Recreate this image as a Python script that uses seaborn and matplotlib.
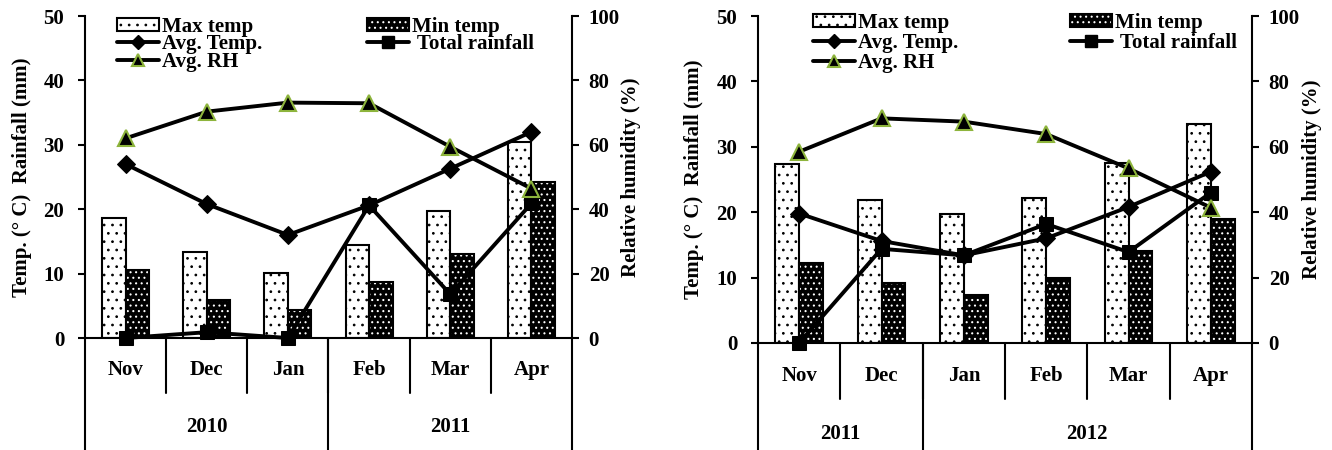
import numpy as np
import pandas as pd
import matplotlib
matplotlib.use("Agg")
import matplotlib.pyplot as plt
from matplotlib.patches import Patch, Rectangle
from matplotlib.legend_handler import HandlerTuple
from matplotlib.lines import Line2D
import seaborn as sns

# ---------------- data ----------------
months = ["Nov", "Dec", "Jan", "Feb", "Mar", "Apr"]

# season 1 (2010 / 2011)
years_a = [("2010", 3), ("2011", 3)]
max_a = [18.7, 13.3, 10.1, 14.4, 19.7, 30.5]
min_a = [10.5, 5.9, 4.3, 8.7, 13.1, 24.3]
avg_a = [27.0, 20.8, 16.0, 20.6, 26.3, 32.0]
rain_a = [0.0, 0.9, 0.0, 20.6, 6.8, 20.9]
rh_a = [62.0, 70.3, 73.1, 72.9, 59.4, 46.4]

# season 2 (2011 / 2012)
years_b = [("2011", 2), ("2012", 4)]
max_b = [27.3, 21.9, 19.7, 22.1, 27.5, 33.5]
min_b = [12.2, 9.1, 7.3, 9.9, 14.1, 19.0]
avg_b = [19.8, 15.6, 13.4, 16.0, 20.8, 26.2]
rain_b = [0.0, 14.4, 13.4, 18.2, 13.9, 23.0]
rh_b = [58.5, 68.7, 67.7, 63.9, 53.4, 41.4]

# ---------------- style ----------------
sns.set_theme(style="white")
plt.rcParams["font.family"] = ["Liberation Serif", "DejaVu Serif"]
plt.rcParams["font.weight"] = "bold"
plt.rcParams["axes.labelweight"] = "bold"
for key in ["text.color", "axes.labelcolor", "xtick.color", "ytick.color",
            "axes.edgecolor"]:
    plt.rcParams[key] = "black"
plt.rcParams["hatch.linewidth"] = 0.75
FS = 15
GREEN = "#8DB43C"
LW = 2.8
HATCH_MAX = ".."
HATCH_MIN = "..."


def panel(fig, rect, maxv, minv, avgv, rainv, rhv, years, leg_x1, leg_x2, leg_y, lspace):
    ax = fig.add_axes(rect)
    df = pd.DataFrame({
        "month": months * 2,
        "value": maxv + minv,
        "series": ["Max temp"] * 6 + ["Min temp"] * 6,
    })
    sns.barplot(data=df, x="month", y="value", hue="series", order=months,
                hue_order=["Max temp", "Min temp"],
                palette={"Max temp": "white", "Min temp": "black"},
                width=0.58, edgecolor="black", linewidth=1.5, ax=ax,
                legend=False, zorder=2)
    for p in ax.containers[0]:
        p.set_hatch(HATCH_MAX)
    for p in ax.containers[1]:
        p.set_edgecolor("white")
        p.set_linewidth(0)
        p.set_hatch(HATCH_MIN)
        ax.add_patch(Rectangle(p.get_xy(), p.get_width(), p.get_height(),
                               fill=False, edgecolor="black", lw=1.5, zorder=2.1))

    x = np.arange(len(months))
    sns.lineplot(x=x, y=avgv, ax=ax, color="black", lw=LW, marker="D",
                 markersize=9, markeredgecolor="black", zorder=4, clip_on=False)
    sns.lineplot(x=x, y=rainv, ax=ax, color="black", lw=LW, marker="s",
                 markersize=10, markeredgecolor="black", zorder=4, clip_on=False)

    ax.set_xlim(-0.5, len(months) - 0.5)
    ax.set_ylim(0, 50)
    ax.set_yticks(range(0, 51, 10))
    ax.set_xticks([])
    ax.set_xlabel("")
    ax.set_ylabel("Temp. (° C)  Rainfall (mm)", fontsize=FS, fontweight="bold",
                  va="center")
    ax.yaxis.set_label_coords(-0.13, 0.5)
    ax.tick_params(axis="y", direction="out", length=5, width=1.5,
                   labelsize=FS, left=True, pad=10)
    for s in ["top", "right"]:
        ax.spines[s].set_visible(False)
    for s in ["left", "bottom"]:
        ax.spines[s].set_color("black")
        ax.spines[s].set_linewidth(1.5)

    ax2 = ax.twinx()
    sns.lineplot(x=x, y=rhv, ax=ax2, color="black", lw=LW, marker="^",
                 markersize=11, markerfacecolor="black", markeredgecolor=GREEN,
                 markeredgewidth=1.5, zorder=5, clip_on=False)
    ax2.set_ylim(0, 100)
    ax2.set_yticks(range(0, 101, 20))
    ax2.set_ylabel("Relative humidity (%)", fontsize=FS, fontweight="bold",
                   va="center", rotation=90)
    ax2.yaxis.set_label_coords(1.122, 0.5)
    ax2.tick_params(axis="y", direction="out", length=5, width=1.5,
                    labelsize=FS, right=True, pad=7)
    for s in ["top", "left", "bottom"]:
        ax2.spines[s].set_visible(False)
    ax2.spines["right"].set_color("black")
    ax2.spines["right"].set_linewidth(1.5)

    # two-level category axis below the plot
    tr = ax.get_xaxis_transform()
    for i, m in enumerate(months):
        ax.text(i, -0.10, m, transform=tr, ha="center", va="center",
                fontsize=FS, fontweight="bold")
    for b in range(1, len(months)):
        ax.plot([b - 0.5, b - 0.5], [0, -0.172], transform=tr, color="black",
                lw=1.5, clip_on=False)
    start = -0.5
    ax.plot([start, start], [0, -0.5], transform=tr, color="black", lw=1.5,
            clip_on=False)
    for yr, n in years:
        ax.text(start + n / 2, -0.277, yr, transform=tr, ha="center",
                va="center", fontsize=FS, fontweight="bold")
        start += n
        ax.plot([start, start], [0, -0.5], transform=tr, color="black",
                lw=1.5, clip_on=False)

    # legend in two columns
    h_max = Patch(facecolor="white", edgecolor="black", hatch=HATCH_MAX, lw=1.5)
    h_min = (Patch(facecolor="black", edgecolor="white", hatch=HATCH_MIN, lw=0),
             Patch(facecolor="none", edgecolor="black", lw=1.5))
    h_avg = Line2D([], [], color="black", lw=LW, marker="D", markersize=7)
    h_rain = Line2D([], [], color="black", lw=LW, marker="s", markersize=9)
    h_rh = Line2D([], [], color="black", lw=LW, marker="^", markersize=9,
                  markerfacecolor="black", markeredgecolor=GREEN,
                  markeredgewidth=1.5)
    common = dict(frameon=False, fontsize=FS, loc="upper left",
                  borderaxespad=0, borderpad=0, handlelength=2.0,
                  handletextpad=0.15, labelspacing=lspace, handleheight=0.55,
                  handler_map={tuple: HandlerTuple(ndivide=1, pad=0)})
    leg1 = ax2.legend([h_max, h_avg, h_rh], ["Max temp", "Avg. Temp.", "Avg. RH"],
                      bbox_to_anchor=(leg_x1, leg_y), **common)
    ax2.add_artist(leg1)
    ax2.legend([h_min, h_rain], ["Min temp", " Total rainfall"],
               bbox_to_anchor=(leg_x2, leg_y), **common)
    return ax, ax2


fig = plt.figure(figsize=(13.32, 4.5), dpi=100)
panel(fig, [85 / 1332, 112 / 450, 487 / 1332, 322 / 450],
      max_a, min_a, avg_a, rain_a, rh_a, years_a, 0.066, 0.579, 0.998, -0.12)
panel(fig, [758 / 1332, 107 / 450, 494 / 1332, 327 / 450],
      max_b, min_b, avg_b, rain_b, rh_b, years_b, 0.111, 0.632, 1.01, 0.0)

fig.savefig("out.png", dpi=100)
